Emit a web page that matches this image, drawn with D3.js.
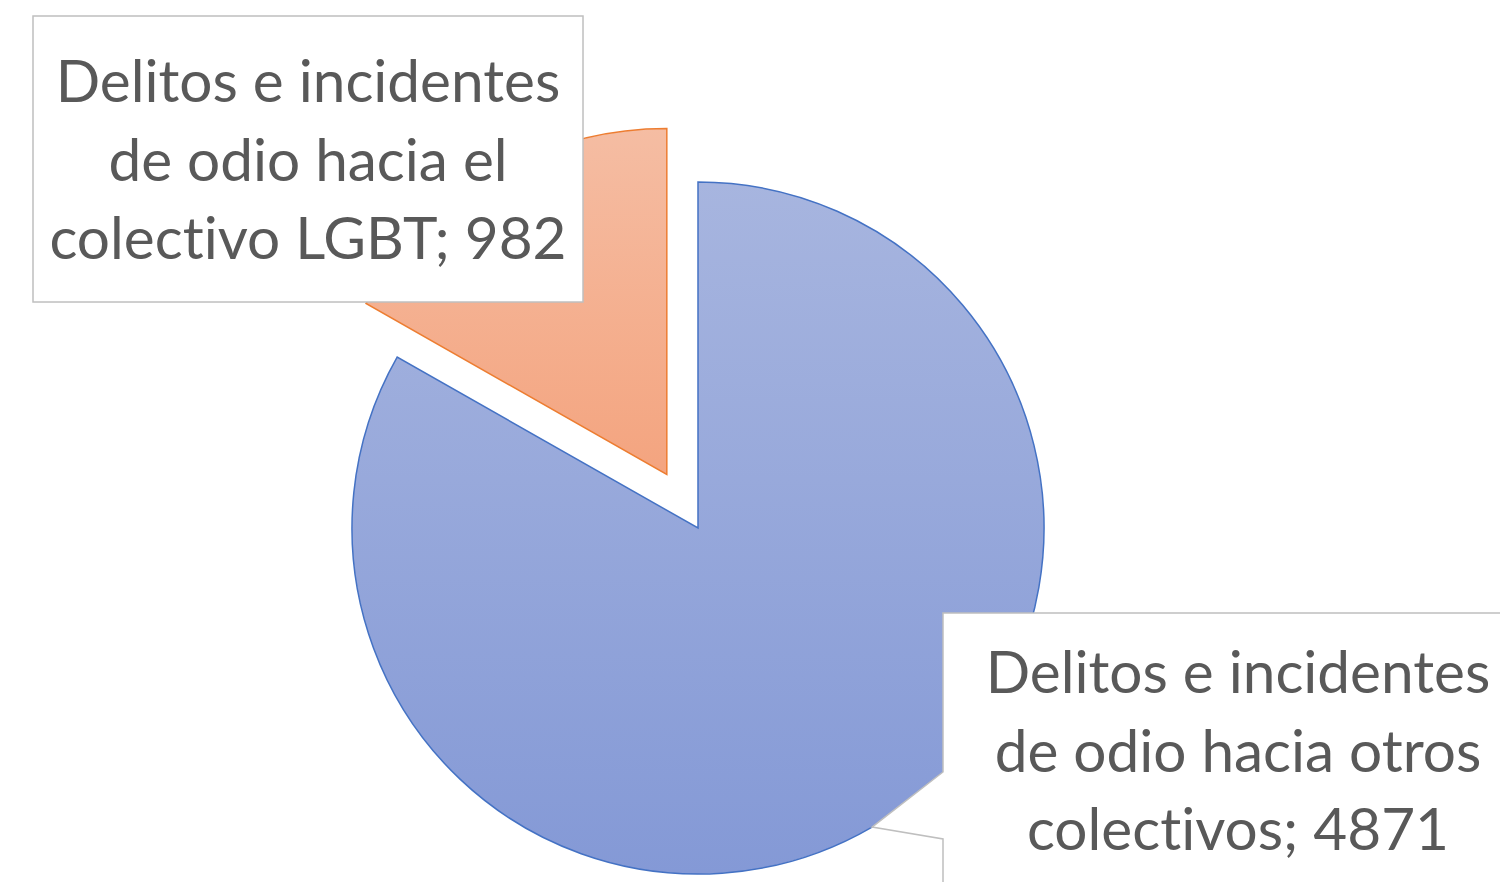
<!DOCTYPE html>
<html>
<head>
<meta charset="utf-8">
<script src="https://cdn.jsdelivr.net/npm/d3@7"></script>
<style>
  html, body { margin: 0; padding: 0; background: #fff; }
  svg { display: block; }
  text { font-variant-ligatures: none; font-feature-settings: "liga" 0; }
</style>
</head>
<body>
<div id="chart"></div>
<script>
// datos: orden de Excel, primer sector empieza a las 12 en sentido horario
const categories = [
  "Delitos e incidentes de odio hacia otros colectivos",
  "Delitos e incidentes de odio hacia el colectivo LGBT"
];
const values = [4871, 982];
const labelLines = [
  ["Delitos e incidentes", "de odio hacia otros", "colectivos; 4871"],
  ["Delitos e incidentes", "de odio hacia el", "colectivo LGBT; 982"]
];
const fillTop = ["#A7B5DF", "#F5BDA3"];
const fillBottom = ["#8499D6", "#F4A47F"];
const strokeColors = ["#4472C4", "#ED7D31"];
const explode = [0, 62];

const width = 1500;
const height = 882;
const cx = 698, cy = 528, radius = 346;

const svg = d3.select("#chart").append("svg")
  .attr("width", width)
  .attr("height", height);

const defs = svg.append("defs");
values.forEach((v, i) => {
  const grad = defs.append("linearGradient")
    .attr("id", `grad${i}`)
    .attr("x1", 0).attr("y1", 0).attr("x2", 0).attr("y2", 1);
  grad.append("stop").attr("offset", "0%").attr("stop-color", fillTop[i]);
  grad.append("stop").attr("offset", "100%").attr("stop-color", fillBottom[i]);
});

const pie = d3.pie().sort(null).value(d => d)(values);
const arc = d3.arc().innerRadius(0).outerRadius(radius);
const edgeArc = d3.arc().innerRadius(radius).outerRadius(radius);

const g = svg.append("g").attr("transform", `translate(${cx},${cy})`);

g.selectAll("path.slice")
  .data(pie)
  .join("path")
  .attr("class", "slice")
  .attr("transform", (d, i) => {
    const mid = (d.startAngle + d.endAngle) / 2;
    return `translate(${Math.sin(mid) * explode[i]},${-Math.cos(mid) * explode[i]})`;
  })
  .attr("d", arc)
  .attr("fill", (d, i) => `url(#grad${i})`)
  .attr("stroke", (d, i) => strokeColors[i])
  .attr("stroke-width", 1.5);

// etiquetas de datos
const fontFamily = "Lato, 'Open Sans', sans-serif";
const fontSize = 58.5;
const lineGap = 78.5;

// etiqueta LGBT: caja simple
const box1 = { x: 33, y: 16, w: 550, h: 286 };
svg.append("rect")
  .attr("x", box1.x).attr("y", box1.y)
  .attr("width", box1.w).attr("height", box1.h)
  .attr("fill", "#fff")
  .attr("stroke", "#BFBFBF")
  .attr("stroke-width", 1.5);

// etiqueta otros: llamada con puntero hacia el sector
const box2 = { x: 943, y: 613, w: 590, h: 286 };
const tip = edgeArc.centroid(pie[0]);
const tipX = cx + tip[0], tipY = cy + tip[1];
const p = d3.path();
p.moveTo(box2.x, box2.y);
p.lineTo(box2.x + box2.w, box2.y);
p.lineTo(box2.x + box2.w, box2.y + box2.h);
p.lineTo(box2.x, box2.y + box2.h);
p.lineTo(box2.x, 839);
p.lineTo(tipX, tipY);
p.lineTo(box2.x, 772);
p.closePath();
svg.append("path")
  .attr("d", p.toString())
  .attr("fill", "#fff")
  .attr("stroke", "#BFBFBF")
  .attr("stroke-width", 1.5);

function drawLines(lines, x, y0) {
  const t = svg.append("text")
    .attr("text-anchor", "middle")
    .attr("font-family", fontFamily)
    .attr("font-size", fontSize)
    .attr("fill", "#595959");
  lines.forEach((line, k) => {
    t.append("tspan").attr("x", x).attr("y", y0 + k * lineGap).text(line);
  });
}

drawLines(labelLines[1], box1.x + box1.w / 2, 102);
drawLines(labelLines[0], 1238, 693);
</script>
</body>
</html>
